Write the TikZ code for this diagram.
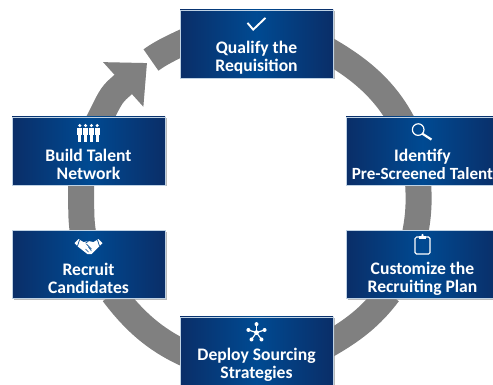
\documentclass[tikz,border=0pt]{standalone}
\usepackage{fontspec}
\setmainfont{Carlito}
\usetikzlibrary{positioning,calc,arrows.meta,shadows,backgrounds}
\definecolor{boxedge}{RGB}{10,46,104}
\definecolor{boxmid}{RGB}{0,74,146}
\definecolor{ringgray}{RGB}{128,128,128}
\tikzset{
	stepbox/.style={rectangle,draw=white!75!boxmid,line width=0.8pt,minimum width=153pt,minimum height=68pt,
		inner sep=0pt,left color=boxedge,right color=boxedge,middle color=boxmid,text=white,
		font=\fontsize{17.6}{18}\selectfont\bfseries,align=center,
		drop shadow={shadow xshift=1.5pt,shadow yshift=-1.5pt,fill=black!45,opacity=0.6}},
	ring/.style={draw=ringgray,line width=26pt,looseness=0.86,shorten <=-7pt,shorten >=-7pt},
	ringglow/.style={draw=black!7,line width=26pt,looseness=0.86,shorten <=-7pt,shorten >=-7pt,yshift=3pt},
	ringhead/.style={shorten >=0pt,-{Triangle[length=32pt,width=58pt]}},
	iconline/.style={draw=white,line width=1.2pt},
	checkicon/.pic={\draw[iconline,line width=1.9pt] (-9,0.7) -- (-3.3,-6) -- (9,5.7);},
	lensicon/.pic={
		\draw[iconline] (-4.3,1) circle (5.8pt);
		\draw[iconline,line width=2.2pt] (0,-3.2) -- (9,-9);},
	clipicon/.pic={
		\draw[iconline,rounded corners=1.5pt] (-7.5,-9) rectangle (7.5,8);
		\fill[white] (-3.5,6.5) rectangle (3.5,9.5);
		\fill[white] (0,10) circle (1.3pt);},
	peopleicon/.pic={
		\foreach \x in {-8.7,-2.9,2.9,8.7} {
			\fill[white] (\x,7) circle (1.7pt);
			\fill[white] (\x-2.6,5) rectangle (\x+2.6,-2);
			\fill[white] (\x-1.4,-2) rectangle (\x+1.4,-9);
		}},
	starsicon/.pic={
		\foreach \a in {90,162,234,306,18} {
			\draw[iconline] (0,0) -- (\a:8.5);
			\fill[white] (\a:8.5) circle (2pt);
		}
		\fill[white] (0,0) circle (2.4pt);},
	shakeicon/.pic={
		\fill[white] (-14,3) -- (-10,7) -- (-5,4) -- (0,5) -- (5,4) -- (10,7) -- (14,3) -- (10,-1)
			-- (3,-8) -- (-1,-8) -- (-10,-1) -- cycle;
		\draw[boxmid,line width=0.7pt] (-9,6) -- (-11,0) (9,6) -- (11,0) (-2,2) -- (3,-3) (-3,3) -- (0,5);
		\draw[boxmid,line width=0.5pt] (-3,-3) -- (0,-6) (0,-1) -- (3,-5);}
}
\begin{document}
\begin{tikzpicture}[x=1pt,y=1pt]
		\useasboundingbox (0,0) rectangle (493,385);
		
		\node[stepbox] (qualify) at (256.5,341) {\rule{0pt}{22pt}\\Qualify the\\Requisition};
		\node[stepbox] (identify) at (422.5,234) {\rule{0pt}{22pt}\\Identify\\{\fontsize{17.1}{18}\selectfont Pre-Screened Talent}};
		\node[stepbox] (customize) at (422.5,120.5) {\rule{0pt}{22pt}\\Customize the\\Recruiting Plan};
		\node[stepbox] (deploy) at (256.5,34) {\rule{0pt}{22pt}\\Deploy Sourcing\\Strategies};
		\node[stepbox] (recruit) at (88.5,120.5) {\rule{0pt}{22pt}\\Recruit\\Candidates};
		\node[stepbox] (build) at (88.5,234) {\rule{0pt}{22pt}\\Build Talent\\Network};
		\coordinate (arrowtip) at (147,322);
		\coordinate (arrowbase) at (117.3,295.2);
		\coordinate (arrowtail) at (151,325);
		
		\begin{scope}[on background layer]
		\path[ringglow,shorten <=0pt] (arrowtail) to[out=36,in=204.6] (qualify.west);
		\path[ringglow] (qualify.353) to[out=-30,in=118] (identify.124.6);
		\path[ringglow] (customize.222.6) to[out=233,in=29.8] (deploy.7);
		\path[ringglow] (deploy.west) to[out=155.6,in=307] (recruit.-50.6);
		\path[ringglow,ringhead] (build.70) to[out=62,in=222] (arrowbase) -- (arrowtip);
		
		\path[ring,shorten <=0pt] (arrowtail) to[out=36,in=204.6] (qualify.west);
		\path[ring] (qualify.353) to[out=-30,in=118] (identify.124.6);
		\path[ring] (identify.263) to[out=-86,in=78] (customize.101.6);
		\path[ring] (customize.222.6) to[out=233,in=29.8] (deploy.7);
		\path[ring] (deploy.west) to[out=155.6,in=307] (recruit.-50.6);
		\path[ring] (recruit.100) to[out=101,in=274] (build.258);
		\path[ring,ringhead] (build.70) to[out=62,in=222] (arrowbase) -- (arrowtip);
		\end{scope}
		
		\pic at ([yshift=-14pt]qualify.north) {checkicon};
		\pic at ([yshift=-14pt]identify.north) {lensicon};
		\pic at ([yshift=-15pt]customize.north) {clipicon};
		\pic at ([yshift=-16pt]deploy.north) {starsicon};
		\pic at ([yshift=-16pt]recruit.north) {shakeicon};
		\pic at ([yshift=-16pt]build.north) {peopleicon};
\end{tikzpicture}
\end{document}
